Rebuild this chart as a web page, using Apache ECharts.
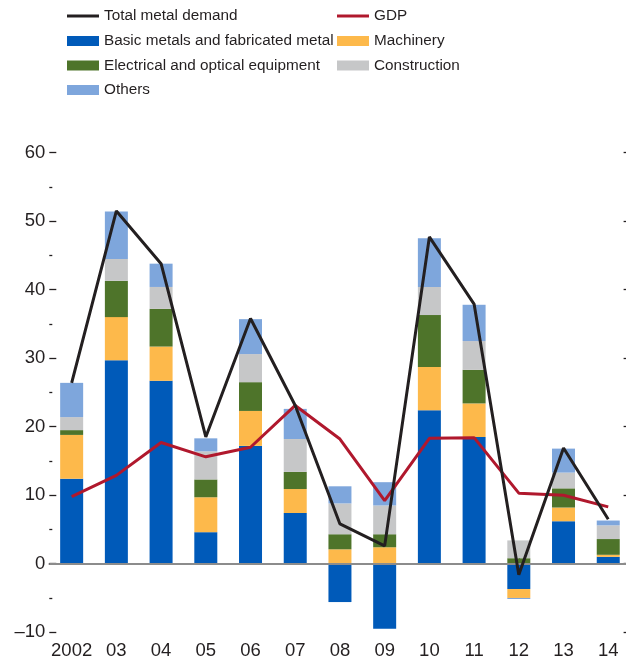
<!DOCTYPE html>
<html>
<head>
<meta charset="utf-8">
<script src="https://cdn.jsdelivr.net/npm/echarts@6/dist/echarts.min.js"></script>
<style>html,body{margin:0;padding:0;background:#fff}#c{width:626px;height:664px}</style>
</head>
<body>
<div id="c"></div>
<script>
var categories = ['2002','03','04','05','06','07','08','09','10','11','12','13','14'];
var basicMetals = [12.4, 29.7, 26.7, 4.6, 17.2, 7.4, -5.6, -9.5, 22.4, 18.5, -3.7, 6.2, 1.0];
var machinery = [6.4, 6.3, 5.0, 5.1, 5.1, 3.5, 2.1, 2.4, 6.3, 4.9, -1.3, 2.0, 0.3];
var electrical = [0.7, 5.3, 5.5, 2.6, 4.2, 2.5, 2.2, 1.9, 7.6, 4.9, 0.8, 2.8, 2.3];
var construction = [1.9, 3.2, 3.2, 4.1, 4.1, 4.8, 4.5, 4.2, 4.1, 4.2, 2.6, 2.3, 2.0];
var others = [5.0, 6.9, 3.4, 1.9, 5.1, 4.4, 2.5, 3.4, 7.1, 5.3, -0.15, 3.5, 0.7];
var totalDemand = [26.4, 51.5, 43.8, 18.5, 35.8, 23.1, 5.8, 2.6, 47.7, 37.9, -1.6, 16.9, 6.5];
var gdp = [9.8, 12.9, 17.7, 15.6, 17.0, 23.1, 18.2, 9.2, 18.3, 18.4, 10.3, 10.0, 8.3];
var yTicks = {min: -10, max: 60, interval: 10};

var FONT = '"Liberation Sans", Arial, sans-serif';
var TXT = '#231f20';
var C = {basic:'#005ab9', mach:'#fdb94b', elec:'#4e742a', cons:'#c6c7c8', oth:'#7ea6dc', total:'#231f20', gdp:'#b0182d'};

function lg(name, left, cy, isLine) {
  return {
    data: [{name: name, icon: 'rect'}], left: left, top: cy - 10, orient: 'horizontal',
    itemWidth: 32, itemHeight: isLine ? 3 : 10, itemGap: 5, selectedMode: false,
    textStyle: {fontFamily: FONT, fontSize: 15.3, color: TXT, lineHeight: 20, padding: [0,0,0,0]},
    padding: 0
  };
}

var chart = echarts.init(document.getElementById('c'), null, {renderer: 'canvas'});
var barBase = {type: 'bar', stack: 'a', barWidth: 23, emphasis: {disabled: true}};
chart.setOption({
  animation: false,
  backgroundColor: '#fff',
  legend: [
    lg('Total metal demand', 67, 16, true),
    lg('GDP', 337, 16, true),
    lg('Basic metals and fabricated metal', 67, 41),
    lg('Machinery', 337, 41),
    lg('Electrical and optical equipment', 67, 65.5),
    lg('Construction', 337, 65.5),
    lg('Others', 67, 90)
  ],
  grid: {left: 49.3, top: 152.7, width: 581.3, height: 479.5, containLabel: false, outerBoundsMode: 'none'},
  xAxis: {
    type: 'category', data: categories, boundaryGap: true,
    axisLine: {show: true, lineStyle: {color: '#231f20', width: 1.5}},
    axisTick: {show: true, inside: true, alignWithLabel: true, length: 6, lineStyle: {color: '#231f20', width: 1.3}},
    axisLabel: {fontFamily: FONT, fontSize: 18.5, color: TXT, margin: 9, interval: 0},
    splitLine: {show: false}
  },
  yAxis: [{
    type: 'value', min: yTicks.min, max: yTicks.max, interval: yTicks.interval, position: 'left',
    axisLine: {show: false},
    axisTick: {show: true, inside: true, length: 7, lineStyle: {color: '#231f20', width: 1.3}},
    minorTick: {show: true, splitNumber: 2, length: 3, lineStyle: {color: '#231f20', width: 1.3}},
    axisLabel: {fontFamily: FONT, fontSize: 18.5, color: TXT, margin: 4,
      formatter: function (v) { return String(v).replace('-', '\u2013'); }},
    splitLine: {show: false}
  }, {
    type: 'value', min: yTicks.min, max: yTicks.max, interval: yTicks.interval, position: 'right',
    axisLine: {show: false},
    axisTick: {show: true, inside: true, length: 7, lineStyle: {color: '#231f20', width: 1.3}},
    axisLabel: {show: false},
    splitLine: {show: false}
  }],
  series: [
    Object.assign({}, barBase, {name: 'Basic metals and fabricated metal', data: basicMetals, itemStyle: {color: C.basic},
      markLine: {silent: true, symbol: 'none', label: {show: false}, lineStyle: {color: '#8c8c8c', width: 2, type: 'solid'}, data: [{yAxis: 0}]}}),
    Object.assign({}, barBase, {name: 'Machinery', data: machinery, itemStyle: {color: C.mach}}),
    Object.assign({}, barBase, {name: 'Electrical and optical equipment', data: electrical, itemStyle: {color: C.elec}}),
    Object.assign({}, barBase, {name: 'Construction', data: construction, itemStyle: {color: C.cons}}),
    Object.assign({}, barBase, {name: 'Others', data: others, itemStyle: {color: C.oth}}),
    {type: 'line', name: 'GDP', data: gdp, symbol: 'none', z: 5, lineStyle: {color: C.gdp, width: 3}, itemStyle: {color: C.gdp}, emphasis: {disabled: true}},
    {type: 'line', name: 'Total metal demand', data: totalDemand, symbol: 'none', z: 6, lineStyle: {color: C.total, width: 3}, itemStyle: {color: C.total}, emphasis: {disabled: true}}
  ]
});
</script>
</body>
</html>
